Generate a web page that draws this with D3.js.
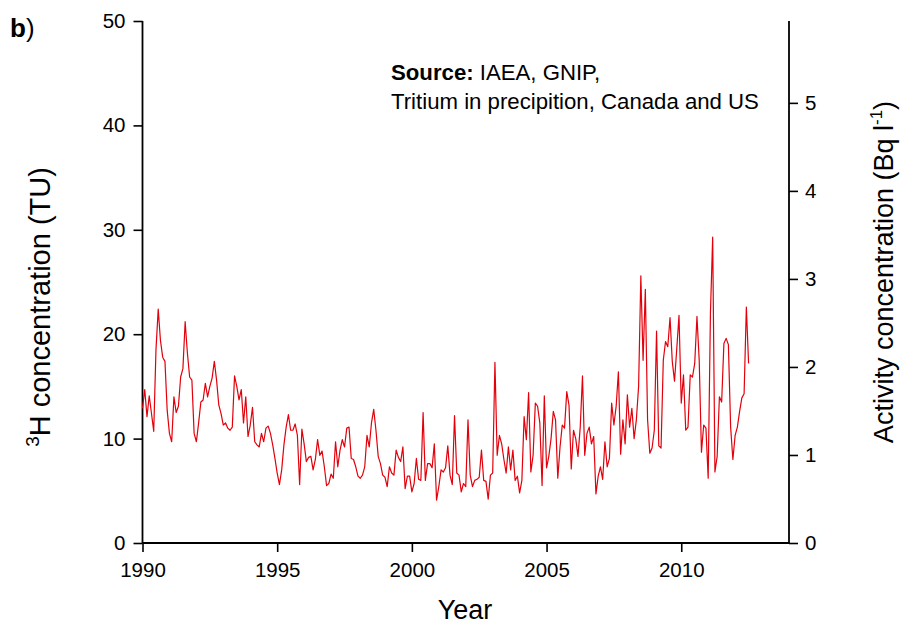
<!DOCTYPE html>
<html>
<head>
<meta charset="utf-8">
<script src="https://cdn.jsdelivr.net/npm/d3@7"></script>
<style>
  html, body { margin: 0; padding: 0; background: #fff; }
  svg { display: block; font-family: "Liberation Sans", Arial, sans-serif; }
</style>
</head>
<body>
<svg id="chart" width="902" height="624"></svg>
<script>
// ---- data (monthly 3H concentration, TU), starting Jan 1990 ----
const startYear = 1990;
const tu1990to1994 = [12.9, 14.7, 12.1, 14.1, 12.4, 10.7, 18.5, 22.4, 19.4, 17.8, 17.4, 12.7,
  10.5, 9.7, 14.0, 12.5, 13.1, 15.9, 16.7, 21.2, 18.2, 15.9, 15.6, 10.5,
  9.7, 11.5, 13.5, 13.7, 15.3, 14.0, 15.0, 15.8, 17.4, 15.6, 13.2, 12.4,
  11.3, 11.5, 11.0, 10.8, 11.1, 16.0, 15.0, 13.7, 14.7, 11.5, 14.0, 10.2,
  11.3, 13.0, 9.7, 9.4, 9.2, 10.5, 9.7, 11.0, 11.2, 10.5, 9.4, 8.1, 6.7, 5.6];
const tu1995to1999 = [7.0, 9.4, 11.1, 12.3, 10.8, 10.8, 11.4, 10.3, 5.6, 10.9, 9.5, 7.8, 8.2, 8.3,
  7.0, 8.0, 9.9, 8.4, 8.8, 7.3, 5.5, 5.7, 6.6, 6.2, 9.7, 7.3, 8.9, 9.9, 9.2, 11.0, 11.1, 8.1,
  8.0, 7.3, 6.4, 6.2, 6.5, 7.3, 10.3, 9.2, 11.5, 12.8, 10.8, 8.3, 7.6, 6.5, 6.3, 5.4, 7.3,
  6.7, 6.5, 8.9, 8.2, 7.8, 9.2, 5.2, 6.4];
const tu2000to2004 = [6.4, 4.9, 5.7, 8.1, 6.1, 6.0, 12.5, 6.0, 7.6, 7.6, 7.2, 9.5, 4.1, 5.4, 7.0,
  6.8, 7.2, 9.3, 6.5, 5.6, 12.2, 6.7, 6.5, 4.9, 5.7, 5.4, 11.8, 6.5, 5.4, 6.0, 6.1, 6.3, 8.9,
  6.0, 5.9, 4.2, 6.5, 6.7, 17.3, 8.4, 10.3, 9.5, 8.0, 6.7, 9.2, 7.0, 8.9, 6.0, 6.4, 4.8, 6.0,
  12.1, 9.9, 14.4, 6.8, 8.4, 13.4, 13.1, 11.5];
const tu2004to2008 = [5.5, 14.1, 7.2, 8.3, 10.0, 12.6, 11.8, 6.2, 9.2, 11.3, 11.0, 14.5, 13.2,
  7.1, 10.8, 10.0, 8.3, 11.1, 16.0, 8.4, 10.5, 11.1, 9.5, 10.2, 4.7, 6.4, 7.3, 6.1, 9.7, 7.3,
  8.1, 13.4, 11.3, 13.1, 16.4, 8.5, 11.8, 9.5, 14.2, 11.1, 12.9, 10.0, 11.8, 15.0];
const tu2008to2012 = [25.6, 17.5, 24.3, 11.8, 8.6, 9.1, 10.8, 20.3, 9.3, 9.1,
  17.5, 19.3, 18.8, 21.6, 17.4, 15.5, 18.6, 21.8, 13.4, 16.1, 10.8, 11.1, 16.1, 15.9, 17.2,
  21.7, 17.5, 8.7, 11.3, 11.0, 6.2, 22.0, 29.3, 6.8, 8.3, 14.0, 13.5, 19.1, 19.6, 19.0, 11.1,
  8.0, 10.3, 11.1, 12.6, 13.9, 14.3, 22.6, 17.2];

const xMajorTicks = [1990, 1995, 2000, 2005, 2010];
const xMinorTicks = d3.range(1990, 2015, 1);
const yLeftMajor = [0, 10, 20, 30, 40, 50];
const yLeftMinor = [5, 15, 25, 35, 45];
const yRightMajor = [0, 1, 2, 3, 4, 5];
const yRightMinor = [0.5, 1.5, 2.5, 3.5, 4.5, 5.5];
const tuToBq = 0.1186;

// ---- build ----
const values = [].concat(tu1990to1994, tu1995to1999, tu2000to2004, tu2004to2008, tu2008to2012);
const series = values.map((v, i) => ({ t: startYear + i / 12, v }));

const svg = d3.select("#chart");
const L = 142.5, R = 789, T = 21, B = 543;
const x = d3.scaleLinear().domain([1990, 2014]).range([L, R]);
const y = d3.scaleLinear().domain([0, 50]).range([B, T]);
const y2 = d3.scaleLinear().domain([0, 50 * tuToBq]).range([B, T]);

const fs = 20.5;

// bottom axis
const gx = svg.append("g").attr("transform", `translate(0,${B})`);
gx.call(d3.axisBottom(x).tickValues(xMinorTicks).tickSize(5).tickFormat(""));
gx.call(d3.axisBottom(x).tickValues(xMajorTicks).tickSize(9).tickPadding(10).tickFormat(d3.format("d")));

// left axis
const gy = svg.append("g").attr("transform", `translate(${L},0)`);
gy.call(d3.axisLeft(y).tickValues(yLeftMinor).tickSize(5).tickFormat(""));
gy.call(d3.axisLeft(y).tickValues(yLeftMajor).tickSize(9).tickPadding(8));

// right axis
const gy2 = svg.append("g").attr("transform", `translate(${R},0)`);
gy2.call(d3.axisRight(y2).tickValues(yRightMinor).tickSize(5).tickFormat(""));
gy2.call(d3.axisRight(y2).tickValues(yRightMajor).tickSize(9).tickPadding(7).tickFormat(d3.format("d")));

svg.selectAll(".domain").attr("stroke", "#000").attr("stroke-width", 1.8);
svg.selectAll(".tick line").attr("stroke", "#000").attr("stroke-width", 1.6);
svg.selectAll(".tick text").attr("font-size", fs).attr("fill", "#000")
  .attr("font-family", "'Liberation Sans', Arial, sans-serif");
gx.selectAll(".domain").attr("d", `M${L},0H${R}`);
gy.selectAll(".domain").attr("d", `M0,${B}V${T}`);
gy2.selectAll(".domain").attr("d", `M0,${B}V${T}`);

// line
svg.append("path")
  .datum(series)
  .attr("fill", "none")
  .attr("stroke", "#e3000b")
  .attr("stroke-width", 1.2)
  .attr("stroke-linejoin", "round")
  .attr("d", d3.line().x(d => x(d.t)).y(d => y(d.v)));

// titles
svg.append("text").attr("x", 465).attr("y", 619).attr("text-anchor", "middle")
  .attr("font-size", 27).text("Year");

const lt = svg.append("text")
  .attr("transform", `translate(50,307) rotate(-90)`)
  .attr("text-anchor", "middle").attr("font-size", 29);
lt.append("tspan").attr("font-size", 19).attr("dy", -11).text("3");
lt.append("tspan").attr("dy", 11).text("H concentration (TU)");

const rt = svg.append("text")
  .attr("transform", `translate(893,272) rotate(-90)`)
  .attr("text-anchor", "middle").attr("font-size", 27);
rt.append("tspan").text("Activity concentration (Bq l");
rt.append("tspan").attr("font-size", 17).attr("dy", -11).text("-1");
rt.append("tspan").attr("dy", 11).text(")");

// panel label
const pl = svg.append("text").attr("x", 10).attr("y", 37).attr("font-size", 26);
pl.append("tspan").attr("font-weight", "bold").text("b");
pl.append("tspan").text(")");

// source note
const s1 = svg.append("text").attr("x", 391).attr("y", 80).attr("font-size", 22.2);
s1.append("tspan").attr("font-weight", "bold").text("Source:");
s1.append("tspan").text(" IAEA, GNIP,");
svg.append("text").attr("x", 391).attr("y", 109).attr("font-size", 22.2)
  .text("Tritium in precipition, Canada and US");
</script>
</body>
</html>
